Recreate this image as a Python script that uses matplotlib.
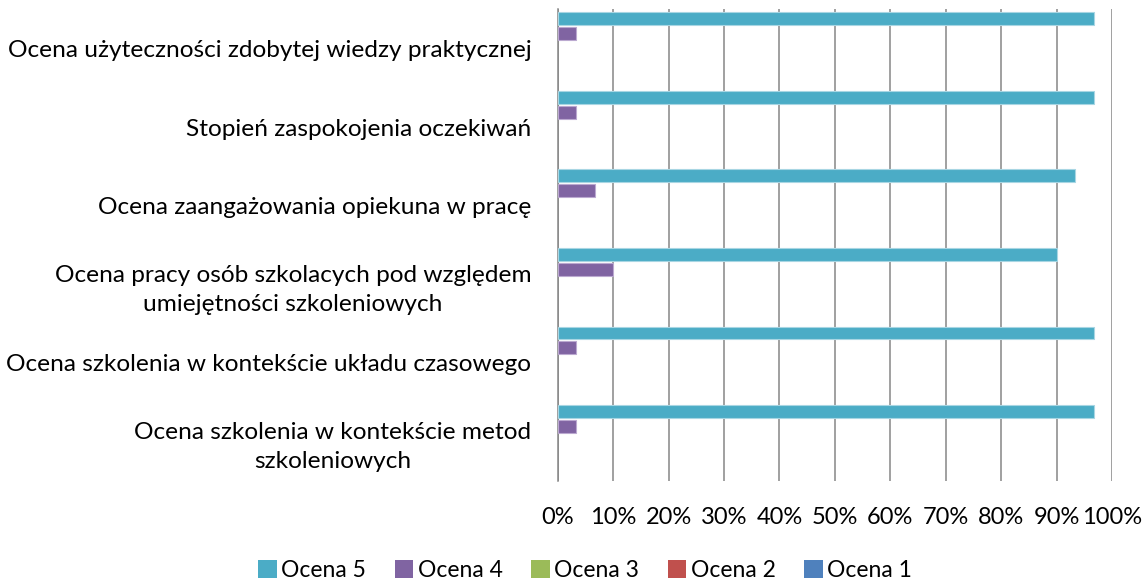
import matplotlib
matplotlib.use("Agg")
import matplotlib.pyplot as plt
from matplotlib.patches import Patch
import numpy as np

plt.rcParams['font.family'] = ['Lato', 'DejaVu Sans']

categories = [
    "Ocena szkolenia w kontekście metod\nszkoleniowych",
    "Ocena szkolenia w kontekście układu czasowego",
    "Ocena pracy osób szkolacych pod względem\numiejętności szkoleniowych",
    "Ocena zaangażowania opiekuna w pracę",
    "Stopień zaspokojenia oczekiwań",
    "Ocena użyteczności zdobytej wiedzy praktycznej",
]
series_names = ["Ocena 5", "Ocena 4", "Ocena 3", "Ocena 2", "Ocena 1"]
ocena5 = [96.67, 96.67, 90.0, 93.33, 96.67, 96.67]
ocena4 = [3.33, 3.33, 10.0, 6.67, 3.33, 3.33]
ocena3 = [0, 0, 0, 0, 0, 0]
ocena2 = [0, 0, 0, 0, 0, 0]
ocena1 = [0, 0, 0, 0, 0, 0]
series_values = [ocena5, ocena4, ocena3, ocena2, ocena1]
colors = ["#4BACC6", "#8064A2", "#9BBB59", "#C0504D", "#4F81BD"]
edges = ["#A8D6E3", "#BBA9D0", "#CBDDAA", "#DFA7A6", "#A7C0DE"]
xticks = [0, 10, 20, 30, 40, 50, 60, 70, 80, 90, 100]
xtick_labels = [f"{t}%" for t in xticks]

fig = plt.figure(figsize=(11.43, 5.81), dpi=100)
ax = fig.add_axes([0.4879, 0.1726, 0.4850, 0.8114])

y = np.arange(len(categories))
pitch = 0.19
offsets = [2 * pitch, pitch, 0, -pitch, -2 * pitch]
for vals, off, c, ec in zip(series_values, offsets, colors, edges):
    lw = [0.8 if v > 0 else 0 for v in vals]
    ax.barh(y + off, vals, height=0.165, color=c, edgecolor=ec, linewidth=lw, zorder=3)

ax.set_xlim(0, 100)
ax.set_ylim(-0.5, len(categories) - 0.5)
ax.set_xticks(xticks)
ax.set_xticklabels(xtick_labels, fontsize=17)
ax.set_yticks(y)
ax.set_yticklabels(categories, fontsize=17.6)
for lbl in ax.get_yticklabels():
    lbl.set_ha('right')
    lbl.set_multialignment('center')
    lbl.set_linespacing(1.45)
ax.tick_params(axis='both', length=0)
ax.tick_params(axis='x', pad=19)
ax.tick_params(axis='y', pad=19)

ax.grid(axis='x', color='#868686', linewidth=1.1, zorder=0)
for s in ['top', 'right', 'bottom']:
    ax.spines[s].set_visible(False)
ax.spines['left'].set_color('#868686')
ax.spines['left'].set_linewidth(1.1)

handles = [Patch(facecolor=c, edgecolor='none') for c in colors]
fig.legend(handles, series_names, loc='center', bbox_to_anchor=(0.512, 0.018),
           ncol=5, frameon=False, fontsize=16.5, handlelength=0.8, handleheight=0.8,
           handletextpad=0.2, columnspacing=1.25, borderaxespad=0)

fig.savefig("out.png", dpi=100)
